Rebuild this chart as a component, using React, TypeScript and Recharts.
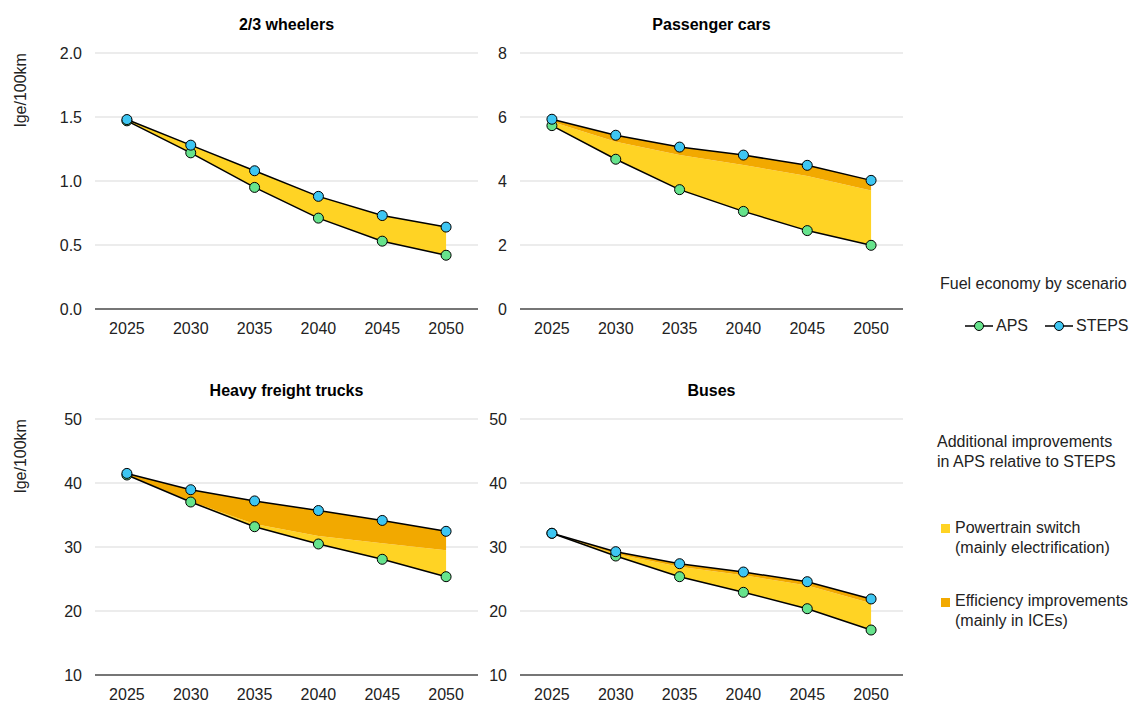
import React from 'react';
import { ComposedChart, Area, Line, XAxis, YAxis, CartesianGrid } from 'recharts';

const years = ['2025', '2030', '2035', '2040', '2045', '2050'];

// 2/3 wheelers
const wheelersSteps = [1.48, 1.28, 1.08, 0.88, 0.73, 0.64];
const wheelersEff = [1.48, 1.28, 1.08, 0.88, 0.73, 0.64];
const wheelersAps = [1.47, 1.22, 0.95, 0.71, 0.53, 0.42];
const wheelersTicks = [0, 0.5, 1, 1.5, 2];

// Passenger cars
const carsSteps = [5.93, 5.43, 5.06, 4.81, 4.49, 4.02];
const carsEff = [5.85, 5.23, 4.81, 4.5, 4.16, 3.7];
const carsAps = [5.73, 4.68, 3.73, 3.05, 2.45, 1.99];
const carsTicks = [0, 2, 4, 6, 8];

// Heavy freight trucks
const trucksSteps = [41.5, 38.95, 37.2, 35.7, 34.15, 32.45];
const trucksEff = [41.3, 37.1, 33.6, 31.7, 30.6, 29.5];
const trucksAps = [41.25, 37.03, 33.17, 30.47, 28.08, 25.36];
const trucksTicks = [10, 20, 30, 40, 50];

// Buses
const busesSteps = [32.14, 29.27, 27.39, 26.09, 24.58, 21.88];
const busesEff = [32.1, 28.9, 26.9, 25.6, 24.0, 21.2];
const busesAps = [32.14, 28.59, 25.36, 22.92, 20.36, 17.03];
const busesTicks = [10, 20, 30, 40, 50];

const YELLOW = '#FFD324';
const ORANGE = '#F2A900';
const GREEN = '#66E38C';
const BLUE = '#3EC6F2';
const FONT = '"Liberation Sans", Arial, sans-serif';

type Row = { year: string; aps: number; eff: number; steps: number };

const buildRows = (aps: number[], eff: number[], steps: number[]): Row[] =>
  years.map((year, i) => ({ year, aps: aps[i], eff: eff[i], steps: steps[i] }));

interface PanelProps {
  title: string;
  rows: Row[];
  ticks: number[];
  decimals: number;
  left: number;
  top: number;
  axisWidth: number;
  unitLabel?: boolean;
}

const Panel: React.FC<PanelProps> = ({ title, rows, ticks, decimals, left, top, axisWidth, unitLabel }) => {
  const plotLeft = left + axisWidth;
  const plotWidth = 383;
  return (
    <>
      <div
        style={{
          position: 'absolute',
          left: plotLeft,
          width: plotWidth,
          top: top + 14,
          textAlign: 'center',
          fontWeight: 700,
          fontSize: 16,
          lineHeight: '22px',
          color: '#000',
        }}
      >
        {title}
      </div>
      {unitLabel && (
        <div
          style={{
            position: 'absolute',
            left: 21,
            top: top + 90,
            transform: 'translate(-50%, -50%) rotate(-90deg)',
            whiteSpace: 'nowrap',
            fontSize: 16,
            color: '#222',
          }}
        >
          lge/100km
        </div>
      )}
      <div style={{ position: 'absolute', left, top }}>
        <ComposedChart
          width={axisWidth + plotWidth + 10}
          height={339}
          data={rows}
          margin={{ top: 53, right: 10, left: 0, bottom: 0 }}
        >
          <CartesianGrid vertical={false} stroke="#d9d9d9" />
          <XAxis
            dataKey="year"
            scale="band"
            height={30}
            axisLine={{ stroke: '#000', strokeWidth: 1.2 }}
            tickLine={false}
            tickSize={0}
            tickMargin={14}
            tick={{ fill: '#222', fontSize: 16 }}
          />
          <YAxis
            type="number"
            width={axisWidth}
            domain={[ticks[0], ticks[ticks.length - 1]]}
            ticks={ticks}
            axisLine={false}
            tickLine={false}
            tickSize={0}
            tickMargin={13}
            tick={{ fill: '#222', fontSize: 16 }}
            tickFormatter={(v: number) => v.toFixed(decimals)}
          />
          <Area
            type="linear"
            dataKey={(d: Row) => [d.aps, d.eff]}
            fill={YELLOW}
            fillOpacity={1}
            stroke="none"
            isAnimationActive={false}
          />
          <Area
            type="linear"
            dataKey={(d: Row) => [d.eff, d.steps]}
            fill={ORANGE}
            fillOpacity={1}
            stroke="none"
            isAnimationActive={false}
          />
          <Line
            type="linear"
            dataKey="aps"
            stroke="#000"
            strokeWidth={1.5}
            dot={{ r: 5, fill: GREEN, stroke: '#000', strokeWidth: 1 }}
            isAnimationActive={false}
          />
          <Line
            type="linear"
            dataKey="steps"
            stroke="#000"
            strokeWidth={1.5}
            dot={{ r: 5, fill: BLUE, stroke: '#000', strokeWidth: 1 }}
            isAnimationActive={false}
          />
        </ComposedChart>
      </div>
    </>
  );
};

const LineSymbol: React.FC<{ color: string }> = ({ color }) => (
  <svg width={28} height={12} style={{ display: 'block' }}>
    <line x1={0} y1={6} x2={28} y2={6} stroke="#000" strokeWidth={1.5} />
    <circle cx={14} cy={6} r={4.5} fill={color} stroke="#000" strokeWidth={1} />
  </svg>
);

const Swatch: React.FC<{ color: string }> = ({ color }) => (
  <div style={{ width: 9, height: 9, background: color }} />
);

const App: React.FC = () => (
  <div
    style={{
      position: 'absolute',
      left: 0,
      top: 0,
      width: 1137,
      height: 704,
      background: '#fff',
      fontFamily: FONT,
      overflow: 'hidden',
    }}
  >
    <Panel title="2/3 wheelers" rows={buildRows(wheelersAps, wheelersEff, wheelersSteps)} ticks={wheelersTicks} decimals={1} left={0} top={0} axisWidth={95} unitLabel />
    <Panel title="Passenger cars" rows={buildRows(carsAps, carsEff, carsSteps)} ticks={carsTicks} decimals={0} left={420} top={0} axisWidth={100} />
    <Panel title="Heavy freight trucks" rows={buildRows(trucksAps, trucksEff, trucksSteps)} ticks={trucksTicks} decimals={0} left={0} top={366} axisWidth={95} unitLabel />
    <Panel title="Buses" rows={buildRows(busesAps, busesEff, busesSteps)} ticks={busesTicks} decimals={0} left={420} top={366} axisWidth={100} />

    <div style={{ position: 'absolute', left: 940, top: 274, fontSize: 16, lineHeight: '20px', color: '#222', whiteSpace: 'nowrap' }}>
      Fuel economy by scenario
    </div>
    <div style={{ position: 'absolute', left: 965, top: 316, display: 'flex', alignItems: 'center', fontSize: 16, lineHeight: '20px', color: '#222' }}>
      <LineSymbol color={GREEN} />
      <span style={{ marginLeft: 3 }}>APS</span>
      <span style={{ marginLeft: 17 }}><LineSymbol color={BLUE} /></span>
      <span style={{ marginLeft: 3 }}>STEPS</span>
    </div>
    <div style={{ position: 'absolute', left: 937, top: 432, fontSize: 16, lineHeight: '20px', color: '#222', whiteSpace: 'nowrap' }}>
      Additional improvements
      <br />
      in APS relative to STEPS
    </div>
    <div style={{ position: 'absolute', left: 941, top: 524 }}>
      <Swatch color={YELLOW} />
    </div>
    <div style={{ position: 'absolute', left: 955, top: 518, fontSize: 16, lineHeight: '20px', color: '#222', whiteSpace: 'nowrap' }}>
      Powertrain switch
      <br />
      (mainly electrification)
    </div>
    <div style={{ position: 'absolute', left: 941, top: 598 }}>
      <Swatch color={ORANGE} />
    </div>
    <div style={{ position: 'absolute', left: 955, top: 591, fontSize: 16, lineHeight: '20px', color: '#222', whiteSpace: 'nowrap' }}>
      Efficiency improvements
      <br />
      (mainly in ICEs)
    </div>
  </div>
);

export default App;
